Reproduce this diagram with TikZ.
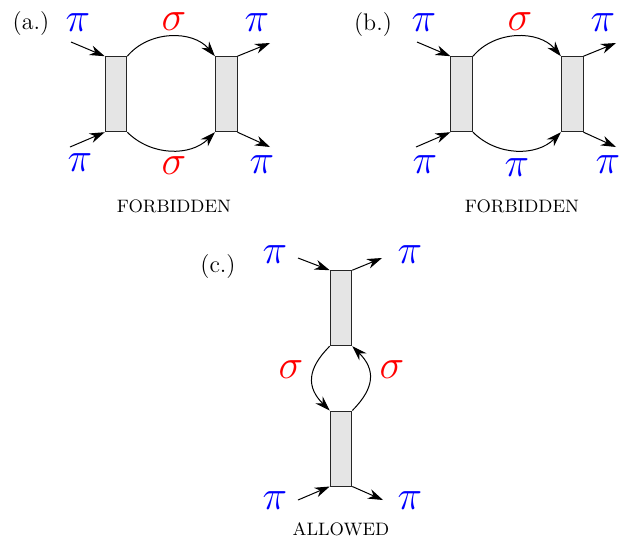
\documentclass[tikz,border=0pt]{standalone}
\usepackage{tikz}
\usetikzlibrary{positioning,arrows.meta}

\begin{document}
\begin{tikzpicture}[x=0.5pt,y=0.5pt,
  every node/.style={inner sep=0pt},
  vertex/.style={rectangle,draw=black!85,fill=black!10,line width=0.5pt,
               minimum width=10.8pt,minimum height=37.5pt,inner sep=0pt},
  pion/.style={font=\huge,text=blue},
  sig/.style={font=\huge,text=red},
  tag/.style={font=\large},
  verdict/.style={font=\small},
  arr/.style={-{Stealth[length=7.5pt,width=5pt,inset=2.4pt]},line width=0.5pt},
]
\useasboundingbox (0,0) rectangle (625,-537);

\node[vertex] (aL) at (116,-94.2) {};
\node[vertex] (aR) at (226.2,-94.2) {};
\node[vertex] (bL) at (461.7,-94.2) {};
\node[vertex] (bR) at (572.2,-94.2) {};
\node[vertex] (cT) at (341,-308.2) {};
\node[vertex] (cB) at (341,-448.5) {};

\node[tag] (aTag) at (31,-24) {(a.)};
\node[tag] (bTag) at (373,-25) {(b.)};
\node[tag] (cTag) at (218,-266) {(c.)};

\node[pion] (aP1) at (78,-23) {$\pi$};
\node[pion] (aP2) at (80,-163) {$\pi$};
\node[pion] (aP3) at (257,-23) {$\pi$};
\node[pion] (aP4) at (262,-165) {$\pi$};
\node[sig] (aS1) at (174,-22) {$\sigma$};
\node[sig] (aS2) at (174,-166) {$\sigma$};
\node[verdict] (aV) at (174,-206) {FORBIDDEN};

\node[pion] (bP1) at (424,-23) {$\pi$};
\node[pion] (bP2) at (425,-165) {$\pi$};
\node[pion] (bP3) at (603,-23) {$\pi$};
\node[pion] (bP4) at (608,-165) {$\pi$};
\node[sig] (bS1) at (520,-22) {$\sigma$};
\node[pion] (bP5) at (517,-168) {$\pi$};
\node[verdict] (bV) at (522,-206) {FORBIDDEN};

\node[pion] (cP1) at (275,-255) {$\pi$};
\node[pion] (cP2) at (410,-255) {$\pi$};
\node[pion] (cP3) at (275,-501) {$\pi$};
\node[pion] (cP4) at (410,-501) {$\pi$};
\node[sig] (cS1) at (291,-370) {$\sigma$};
\node[sig] (cS2) at (392,-370) {$\sigma$};
\node[verdict] (cV) at (341,-529) {ALLOWED};

\coordinate (aIn1) at (71,-42);
\coordinate (aIn2) at (70,-147);
\coordinate (aOut1) at (270,-43);
\coordinate (aOut2) at (270,-147);
\coordinate (bIn1) at (417,-42);
\coordinate (bIn2) at (416,-147);
\coordinate (bOut1) at (616,-43);
\coordinate (bOut2) at (616,-147);
\coordinate (cIn1) at (298,-258);
\coordinate (cIn2) at (298,-500);
\coordinate (cOut1) at (382,-258);
\coordinate (cOut2) at (383,-500);

\draw[arr] (aIn1) -- (aL.north west);
\draw[arr] (aIn2) -- (aL.south west);
\draw[arr] (aR.north east) -- (aOut1);
\draw[arr] (aR.south east) -- (aOut2);
\draw[arr] (aL.north east) to[out=50,in=130] (aR.north west);
\draw[arr] (aL.south east) to[out=-45,in=-135] (aR.south west);

\draw[arr] (bIn1) -- (bL.north west);
\draw[arr] (bIn2) -- (bL.south west);
\draw[arr] (bR.north east) -- (bOut1);
\draw[arr] (bR.south east) -- (bOut2);
\draw[arr] (bL.north east) to[out=50,in=130] (bR.north west);
\draw[arr] (bL.south east) to[out=-45,in=-135] (bR.south west);

\draw[arr] (cIn1) -- (cT.north west);
\draw[arr] (cT.north east) -- (cOut1);
\draw[arr] (cIn2) -- (cB.south west);
\draw[arr] (cB.south east) -- (cOut2);
\draw[arr] (cT.south west) to[out=225,in=135,looseness=1.3] (cB.north west);
\draw[arr] (cB.north east) to[out=45,in=-45,looseness=1.3] (cT.south east);
\end{tikzpicture}
\end{document}
